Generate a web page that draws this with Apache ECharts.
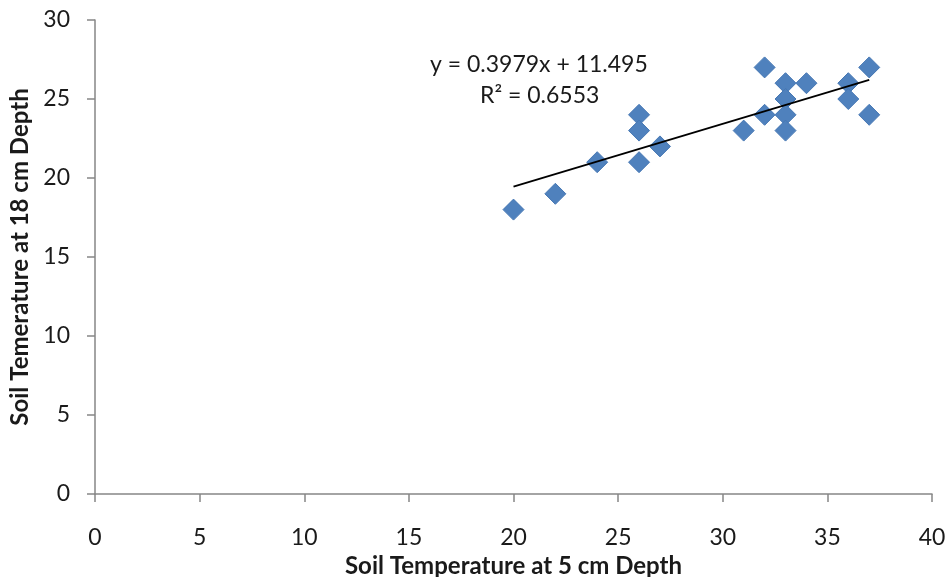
<!DOCTYPE html>
<html>
<head>
<meta charset="utf-8">
<script src="https://cdn.jsdelivr.net/npm/echarts@6/dist/echarts.min.js"></script>
<style>
  html, body { margin: 0; padding: 0; background: #fff; }
  #chart { width: 946px; height: 577px; }
</style>
</head>
<body>
<div id="chart"></div>
<script>
// soil temperatures
var depth5 = [20, 22, 24, 26, 26, 26, 27, 31, 32, 32, 33, 33, 33, 33, 34, 36, 36, 37, 37];
var depth18 = [18, 19, 21, 24, 23, 21, 22, 23, 27, 24, 26, 25, 24, 23, 26, 26, 25, 27, 24];
var slope = 0.3979;
var intercept = 11.495;
var trendRange = [20, 37];
var xTicks = [0, 40, 5];
var yTicks = [0, 30, 5];

var points = depth5.map(function (x, i) { return [x, depth18[i]]; });
var trend = trendRange.map(function (x) { return [x, slope * x + intercept]; });

var font = 'Lato, "Open Sans", sans-serif';
var axisColor = '#868686';
var textColor = '#1a1a1a';

var myChart = echarts.init(document.getElementById('chart'));
var option = {
    animation: false,
    grid: { left: 95, right: 14, top: 20, bottom: 83, outerBoundsMode: 'none', containLabel: false },
    xAxis: {
        type: 'value',
        min: xTicks[0], max: xTicks[1], interval: xTicks[2],
        name: 'Soil Temperature at 5 cm Depth',
        nameLocation: 'middle',
        nameGap: 56,
        nameTextStyle: { fontFamily: font, fontSize: 24, fontWeight: 'bold', color: textColor },
        axisLine: { show: true, lineStyle: { color: axisColor, width: 1.5 } },
        axisTick: { show: true, length: 8, inside: false, lineStyle: { color: axisColor, width: 1.5 } },
        axisLabel: { fontFamily: font, fontSize: 23, color: textColor, margin: 32 },
        splitLine: { show: false }
    },
    yAxis: {
        type: 'value',
        min: yTicks[0], max: yTicks[1], interval: yTicks[2],
        name: 'Soil Temerature at 18 cm Depth',
        nameLocation: 'middle',
        nameGap: 59,
        nameTextStyle: { fontFamily: font, fontSize: 24, fontWeight: 'bold', color: textColor },
        axisLine: { show: true, lineStyle: { color: axisColor, width: 1.5 } },
        axisTick: { show: true, length: 8, inside: false, lineStyle: { color: axisColor, width: 1.5 } },
        axisLabel: { fontFamily: font, fontSize: 23, color: textColor, margin: 25 },
        splitLine: { show: false }
    },
    graphic: [
        { type: 'text', left: 430, top: 53,
          style: { text: 'y = 0.3979x + 11.495', font: '23px ' + font, fill: textColor } },
        { type: 'text', left: 480, top: 84,
          style: { text: 'R² = 0.6553', font: '23px ' + font, fill: textColor } }
    ],
    series: [
        {
            type: 'line',
            data: trend,
            symbol: 'none',
            lineStyle: { color: '#000', width: 1.8 },
            z: 3
        },
        {
            type: 'scatter',
            data: points,
            symbol: 'diamond',
            symbolSize: 21,
            itemStyle: { color: '#4F81BD', borderColor: '#4677B3', borderWidth: 1, opacity: 1 },
            z: 2
        }
    ]
};
myChart.setOption(option);
</script>
</body>
</html>
